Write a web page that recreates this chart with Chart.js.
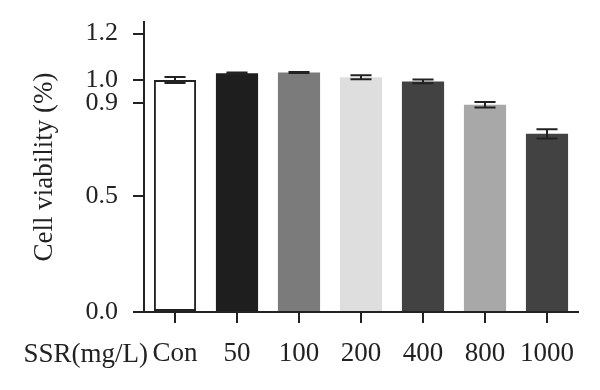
<!DOCTYPE html>
<html>
<head>
<meta charset="utf-8">
<script src="https://cdn.jsdelivr.net/npm/chart.js@4/dist/chart.umd.min.js"></script>
<style>
  body { margin: 0; background: #fff; }
</style>
</head>
<body>
<canvas id="graph_viabilite" width="600" height="390"></canvas>
<script>
// donnees
var groupes = ['Con', '50', '100', '200', '400', '800', '1000'];
var viabilite = [1.0, 1.029, 1.032, 1.012, 0.994, 0.893, 0.768];
var erreurs = [0.013, 0.003, 0.002, 0.009, 0.008, 0.012, 0.02];
var ticks_y = [0, 0.5, 0.9, 1.0, 1.2];
var couleurs = ['#ffffff', '#1e1e1e', '#7b7b7b', '#dedede', '#424242', '#a8a8a8', '#424242'];

var police = 'Liberation Serif';
var encre = '#222222';

// barres d'erreur + libelle SSR(mg/L)
var pluginErreurs = {
    id: 'erreurs',
    afterDatasetsDraw: function(chart) {
        var ctx = chart.ctx;
        var y = chart.scales.y;
        var meta = chart.getDatasetMeta(0);
        ctx.save();
        ctx.strokeStyle = encre;
        ctx.lineWidth = 2;
        meta.data.forEach(function(bar, i) {
            var haut = y.getPixelForValue(viabilite[i] + erreurs[i]);
            var bas = y.getPixelForValue(viabilite[i] - erreurs[i]);
            var demi = bar.width * 0.25;
            ctx.beginPath();
            ctx.moveTo(bar.x, haut); ctx.lineTo(bar.x, bas);
            ctx.moveTo(bar.x - demi, haut); ctx.lineTo(bar.x + demi, haut);
            ctx.moveTo(bar.x - demi, bas); ctx.lineTo(bar.x + demi, bas);
            ctx.stroke();
        });
        ctx.restore();
    },
    afterDraw: function(chart) {
        var ctx = chart.ctx;
        var x = chart.scales.x;
        ctx.save();
        ctx.font = '27px "' + police + '"';
        ctx.fillStyle = encre;
        ctx.textAlign = 'right';
        ctx.textBaseline = 'alphabetic';
        ctx.fillText('SSR(mg/L)', 148, x.top + 50);
        ctx.restore();
    }
};

var getElemChart = document.getElementById('graph_viabilite').getContext('2d');
var monGraphe = new Chart(getElemChart, {
    type: 'bar',
    data: {
        labels: groupes,
        datasets: [{
            data: viabilite,
            backgroundColor: couleurs,
            borderColor: encre,
            borderWidth: [2, 0, 0, 0, 0, 0, 0],
            borderSkipped: false,
            barPercentage: 0.68,
            categoryPercentage: 1
        }]
    },
    options: {
        responsive: false,
        animation: false,
        layout: { padding: { left: 0, right: 22, top: 22, bottom: 0 } },
        plugins: { legend: { display: false }, tooltip: { enabled: false } },
        scales: {
            x: {
                afterFit: function(scale) {
                    scale.height = 78;
                    scale.paddingLeft = 0;
                    scale.paddingRight = 0;
                },
                border: { color: encre, width: 2 },
                grid: { offset: false, drawOnChartArea: false, tickLength: 11, color: encre, lineWidth: 2 },
                ticks: { color: encre, padding: 15, font: { family: police, size: 27 }, maxRotation: 0 }
            },
            y: {
                min: 0,
                max: 1.25,
                afterFit: function(scale) {
                    scale.width = 144;
                    scale.paddingTop = 0;
                    scale.paddingBottom = 0;
                },
                afterBuildTicks: function(scale) {
                    scale.ticks = ticks_y.map(function(v) { return { value: v }; });
                },
                border: { color: encre, width: 2 },
                grid: { drawOnChartArea: false, tickLength: 11, color: encre, lineWidth: 2 },
                ticks: {
                    color: encre,
                    padding: 15,
                    font: { family: police, size: 26 },
                    callback: function(v) { return Number(v).toFixed(1); }
                },
                title: {
                    display: true,
                    text: 'Cell viability (%)',
                    color: encre,
                    font: { family: police, size: 27 },
                    padding: { top: 29 }
                }
            }
        }
    },
    plugins: [pluginErreurs]
});
</script>
</body>
</html>
